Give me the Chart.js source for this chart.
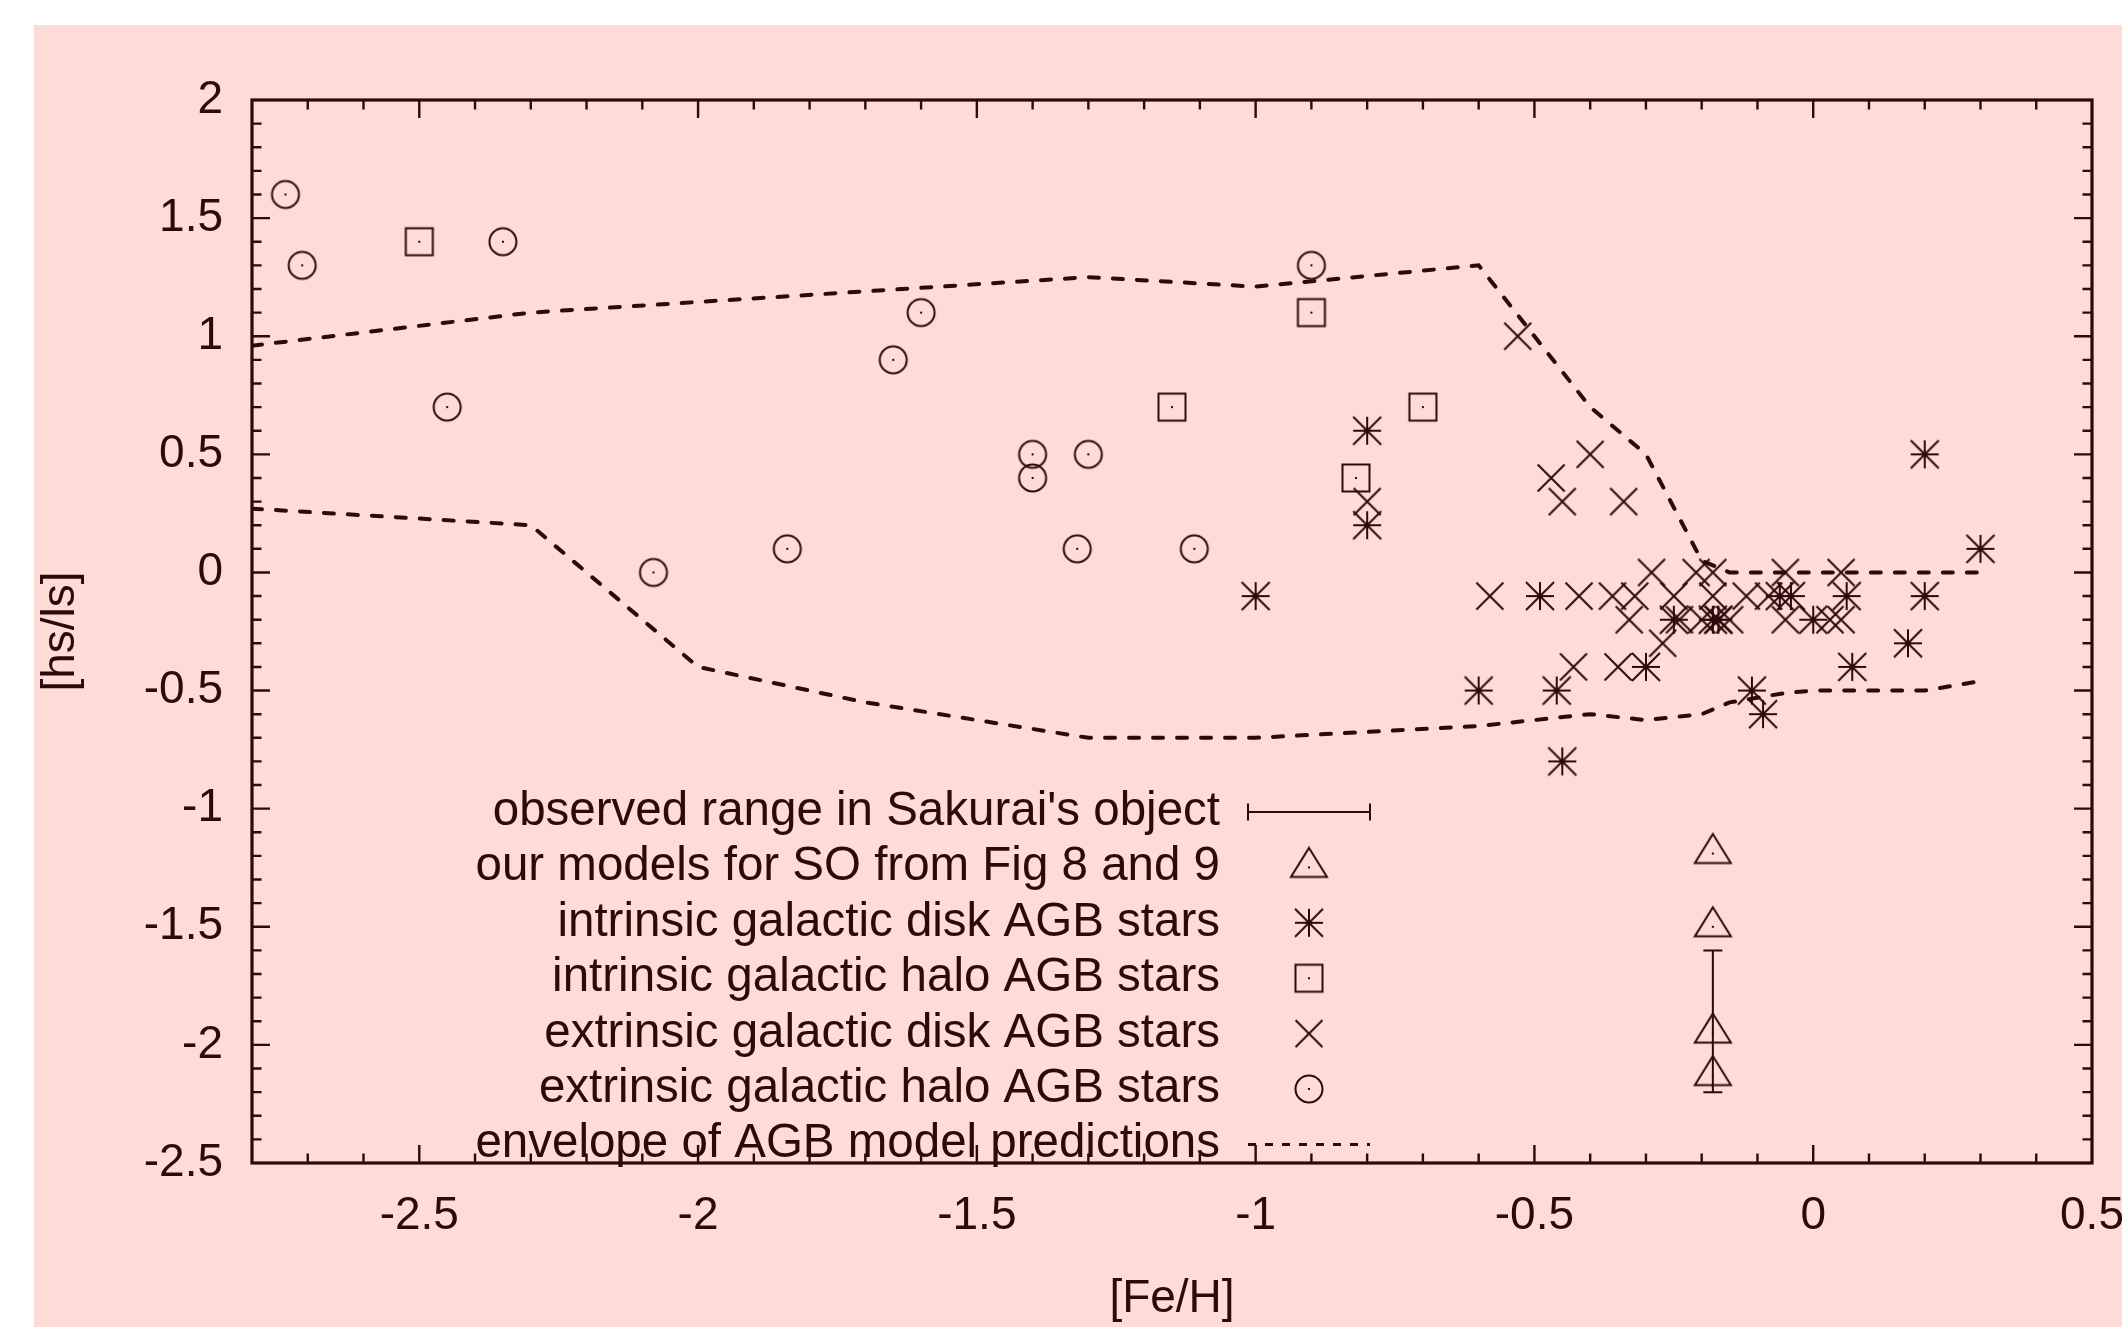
<!DOCTYPE html>
<html>
<head>
<meta charset="utf-8">
<script src="https://cdn.jsdelivr.net/npm/chart.js@4.4.1/dist/chart.umd.min.js"></script>
<style>
  html, body { margin: 0; padding: 0; background: #fff; }
  #wrap { position: absolute; left: 34px; top: 25px; width: 2088px; height: 1302px; background: #fddbd7; }
</style>
</head>
<body>
<div id="wrap"><canvas id="c" width="2088" height="1302"></canvas></div>
<script>
// ticks
const xTicks = [-2.5, -2, -1.5, -1, -0.5, 0, 0.5];
const yTicks = [2, 1.5, 1, 0.5, 0, -0.5, -1, -1.5, -2, -2.5];

// extrinsic galactic halo AGB stars (circles)
const extHaloFe = [-2.74, -2.71, -2.35, -2.45, -2.08, -1.84, -1.65, -1.60, -1.40, -1.40, -1.30, -1.32, -1.11, -0.90];
const extHaloHs = [1.6, 1.3, 1.4, 0.7, 0.0, 0.1, 0.9, 1.1, 0.5, 0.4, 0.5, 0.1, 0.1, 1.3];

// intrinsic galactic halo AGB stars (squares)
const intHaloFe = [-2.50, -0.90, -1.15, -0.70, -0.82];
const intHaloHs = [1.4, 1.1, 0.7, 0.7, 0.4];

// intrinsic galactic disk AGB stars (asterisks)
const intDiskFe = [-0.80, -0.80, -1.00, -0.60, -0.46, -0.45, -0.49, -0.30, -0.25, -0.18, -0.17, -0.06, -0.04, 0.00, 0.06, -0.11, -0.09, 0.07, 0.17, 0.20, 0.20, 0.30];
const intDiskHs = [0.6, 0.2, -0.1, -0.5, -0.5, -0.8, -0.1, -0.4, -0.2, -0.2, -0.2, -0.1, -0.1, -0.2, -0.1, -0.5, -0.6, -0.4, -0.3, -0.1, 0.5, 0.1];

// extrinsic galactic disk AGB stars (crosses)
const extDiskFe = [-0.53, -0.40, -0.47, -0.45, -0.34, -0.80,
  -0.58, -0.42, -0.36, -0.32, -0.25, -0.18, -0.12, -0.08,
  -0.29, -0.21, -0.18, -0.05, 0.05,
  -0.33, -0.24, -0.20, -0.17, -0.15, -0.05, 0.03, 0.05,
  -0.27, -0.43, -0.35];
const extDiskHs = [1.0, 0.5, 0.4, 0.3, 0.3, 0.3,
  -0.1, -0.1, -0.1, -0.1, -0.1, -0.1, -0.1, -0.1,
  0.0, 0.0, 0.0, 0.0, 0.0,
  -0.2, -0.2, -0.2, -0.2, -0.2, -0.2, -0.2, -0.2,
  -0.3, -0.4, -0.4];

// our models for SO (triangles)
const modelFe = [-0.18, -0.18, -0.18, -0.18];
const modelHs = [-1.19, -1.50, -1.95, -2.13];

// observed range in Sakurai's object
const obsFe = -0.18;
const obsLow = -2.2;
const obsHigh = -1.6;

// envelope of AGB model predictions
const envUpFe = [-2.8, -2.3, -1.3, -1.0, -0.6, -0.4, -0.3, -0.2, -0.15, 0.3];
const envUpHs = [0.96, 1.1, 1.25, 1.21, 1.3, 0.7, 0.5, 0.05, 0.0, 0.0];
const envLowFe = [-2.8, -2.3, -2.0, -1.7, -1.3, -1.0, -0.6, -0.4, -0.3, -0.2, -0.15, -0.05, 0.0, 0.2, 0.3];
const envLowHs = [0.27, 0.2, -0.4, -0.55, -0.7, -0.7, -0.65, -0.6, -0.625, -0.6, -0.55, -0.51, -0.5, -0.5, -0.46];

const ink = '#2a0a0a';
const fontFamily = '"Liberation Sans", Arial, Helvetica, sans-serif';
const fontSize = 46;
const keyFontSize = 47.5;

const pts = (xs, ys) => xs.map((v, i) => ({ x: v, y: ys[i] }));

// gnuplot-like marker glyphs
function marker(kind) {
  const s = 44, m = s / 2;
  const c = document.createElement('canvas');
  c.width = s; c.height = s;
  const g = c.getContext('2d');
  g.strokeStyle = ink; g.fillStyle = ink; g.lineWidth = 2;
  g.beginPath();
  if (kind === 'circle') {
    g.arc(m, m, 13.5, 0, Math.PI * 2);
  } else if (kind === 'square') {
    g.rect(m - 13.5, m - 13.5, 27, 27);
  } else if (kind === 'cross') {
    g.moveTo(m - 13.5, m - 13.5); g.lineTo(m + 13.5, m + 13.5);
    g.moveTo(m + 13.5, m - 13.5); g.lineTo(m - 13.5, m + 13.5);
  } else if (kind === 'star') {
    g.moveTo(m - 14, m); g.lineTo(m + 14, m);
    g.moveTo(m, m - 14); g.lineTo(m, m + 14);
    g.moveTo(m - 14, m - 14); g.lineTo(m + 14, m + 14);
    g.moveTo(m + 14, m - 14); g.lineTo(m - 14, m + 14);
  } else if (kind === 'triangle') {
    g.moveTo(m, m - 19.5); g.lineTo(m + 18, m + 9.5); g.lineTo(m - 18, m + 9.5); g.closePath();
  }
  g.stroke();
  if (kind !== 'cross') g.fillRect(m - 1, m - 1, 2, 2);
  if (kind === 'star') g.fillRect(m - 2, m - 2, 4, 4);
  return c;
}

const mk = {
  circle: marker('circle'), square: marker('square'), cross: marker('cross'),
  star: marker('star'), triangle: marker('triangle')
};

const scatterSet = (label, xs, ys, img) => ({
  label, data: pts(xs, ys), pointStyle: img, pointRadius: 14,
  showLine: false, borderColor: ink, backgroundColor: ink
});
const envSet = (label, xs, ys) => ({
  label, data: pts(xs, ys), showLine: true, pointRadius: 0,
  borderColor: ink, borderWidth: 4, borderDash: [10, 14], borderCapStyle: 'round',
  tension: 0, fill: false
});

// ticks and frame drawn inward like gnuplot
const frame = {
  id: 'frame',
  afterDatasetsDraw(chart) {
    const { ctx, chartArea: a, scales: { x, y } } = chart;
    ctx.save();
    ctx.strokeStyle = ink;
    ctx.lineWidth = 2.4;
    ctx.beginPath();
    for (let i = -27; i <= 4; i++) {
      const px = x.getPixelForValue(i / 10);
      const len = i % 5 === 0 ? 18 : 9.5;
      ctx.moveTo(px, a.bottom); ctx.lineTo(px, a.bottom - len);
      ctx.moveTo(px, a.top); ctx.lineTo(px, a.top + len);
    }
    for (let i = -24; i <= 19; i++) {
      const py = y.getPixelForValue(i / 10);
      const len = i % 5 === 0 ? 18 : 9.5;
      ctx.moveTo(a.left, py); ctx.lineTo(a.left + len, py);
      ctx.moveTo(a.right, py); ctx.lineTo(a.right - len, py);
    }
    ctx.stroke();
    ctx.lineWidth = 3.2;
    ctx.strokeRect(a.left, a.top, a.right - a.left, a.bottom - a.top);

    // observed range error bar
    const ex = x.getPixelForValue(obsFe);
    const y1 = y.getPixelForValue(obsHigh), y2 = y.getPixelForValue(obsLow);
    ctx.lineWidth = 2;
    ctx.beginPath();
    ctx.moveTo(ex, y1); ctx.lineTo(ex, y2);
    ctx.moveTo(ex - 9.5, y1); ctx.lineTo(ex + 9.5, y1);
    ctx.moveTo(ex - 9.5, y2); ctx.lineTo(ex + 9.5, y2);
    ctx.stroke();
    ctx.restore();
  }
};

// key, right aligned text with sample on the right
const key = {
  id: 'key',
  afterDraw(chart) {
    const { ctx } = chart;
    const ds = chart.data.datasets;
    const rows = [
      { label: "observed range in Sakurai's object", kind: 'bar' },
      { label: ds[0].label, img: ds[0].pointStyle },
      { label: ds[1].label, img: ds[1].pointStyle },
      { label: ds[2].label, img: ds[2].pointStyle },
      { label: ds[3].label, img: ds[3].pointStyle },
      { label: ds[4].label, img: ds[4].pointStyle },
      { label: ds[5].label, kind: 'dash' }
    ];
    const tx = 1186, sx0 = 1214, sx1 = 1336, sc = 1275;
    ctx.save();
    ctx.font = keyFontSize + 'px ' + fontFamily;
    ctx.fillStyle = ink; ctx.strokeStyle = ink;
    ctx.textAlign = 'right'; ctx.textBaseline = 'middle';
    rows.forEach((r, i) => {
      const ry = 787 + i * 55.4;
      ctx.fillText(r.label, tx, ry);
      if (r.kind === 'bar') {
        ctx.lineWidth = 2;
        ctx.beginPath();
        ctx.moveTo(sx0, ry); ctx.lineTo(sx1, ry);
        ctx.moveTo(sx0, ry - 8.5); ctx.lineTo(sx0, ry + 8.5);
        ctx.moveTo(sx1, ry - 8.5); ctx.lineTo(sx1, ry + 8.5);
        ctx.stroke();
      } else if (r.kind === 'dash') {
        ctx.lineWidth = 3;
        ctx.setLineDash([8, 9]);
        ctx.beginPath();
        ctx.moveTo(sx0, ry); ctx.lineTo(sx1, ry);
        ctx.stroke();
        ctx.setLineDash([]);
      } else {
        ctx.drawImage(r.img, sc - r.img.width / 2, ry - r.img.height / 2);
      }
    });
    ctx.restore();
  }
};

new Chart(document.getElementById('c'), {
  type: 'scatter',
  data: {
    datasets: [
      scatterSet('our models for SO from Fig 8 and 9', modelFe, modelHs, mk.triangle),
      scatterSet('intrinsic galactic disk AGB stars', intDiskFe, intDiskHs, mk.star),
      scatterSet('intrinsic galactic halo AGB stars', intHaloFe, intHaloHs, mk.square),
      scatterSet('extrinsic galactic disk AGB stars', extDiskFe, extDiskHs, mk.cross),
      scatterSet('extrinsic galactic halo AGB stars', extHaloFe, extHaloHs, mk.circle),
      envSet('envelope of AGB model predictions', envUpFe, envUpHs),
      envSet('envelope of AGB model predictions (lower)', envLowFe, envLowHs)
    ]
  },
  options: {
    responsive: false,
    animation: false,
    events: [],
    layout: { padding: { top: 75, right: 30, left: 0, bottom: 0 } },
    plugins: { legend: { display: false }, tooltip: { enabled: false } },
    scales: {
      x: {
        type: 'linear', min: -2.8, max: 0.5,
        afterBuildTicks: s => { s.ticks = xTicks.map(v => ({ value: v })); },
        afterFit: s => { s.height = 164; s.paddingLeft = 0; s.paddingRight = 0; },
        grid: { display: false, drawTicks: false },
        border: { display: false },
        ticks: { color: ink, padding: 26, maxRotation: 0, font: { family: fontFamily, size: fontSize }, callback: v => String(v) },
        title: { display: true, text: '[Fe/H]', color: ink, padding: 0, font: { family: fontFamily, size: fontSize } }
      },
      y: {
        type: 'linear', min: -2.5, max: 2,
        afterBuildTicks: s => { s.ticks = yTicks.map(v => ({ value: v })); },
        afterFit: s => { s.width = 218; s.paddingTop = 0; s.paddingBottom = 0; },
        grid: { display: false, drawTicks: false },
        border: { display: false },
        ticks: { color: ink, padding: 29, font: { family: fontFamily, size: fontSize }, callback: v => String(v) },
        title: { display: true, text: '[hs/ls]', color: ink, padding: 0, font: { family: fontFamily, size: fontSize } }
      }
    }
  },
  plugins: [frame, key]
});
</script>
</body>
</html>
